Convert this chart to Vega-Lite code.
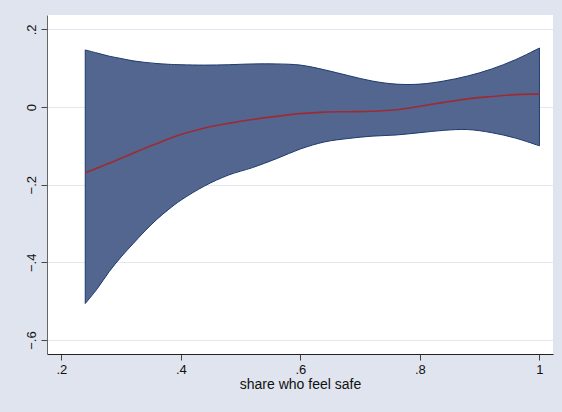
{
  "$schema": "https://vega.github.io/schema/vega-lite/v6.json",
  "width": 506,
  "height": 339,
  "autosize": "none",
  "padding": {"left": 47, "top": 15, "right": 9, "bottom": 58},
  "background": "#dfe4ee",
  "config": {
    "view": {"fill": "white", "stroke": null},
    "font": "Liberation Sans",
    "axis": {
      "labelFont": "Liberation Sans",
      "titleFont": "Liberation Sans",
      "labelFontSize": 13,
      "titleFontSize": 14,
      "labelColor": "#111111",
      "titleColor": "#111111",
      "titleFontWeight": "normal",
      "domainColor": "#444444",
      "tickColor": "#444444",
      "tickSize": 6,
      "gridColor": "#e3e7ef",
      "gridWidth": 1
    }
  },
  "data": {
    "values": [
      {"x": 0.24, "lo": -0.506, "hi": 0.147, "fit": -0.169},
      {"x": 0.26, "lo": -0.468, "hi": 0.139, "fit": -0.157},
      {"x": 0.28, "lo": -0.424, "hi": 0.131, "fit": -0.145},
      {"x": 0.30, "lo": -0.386, "hi": 0.125, "fit": -0.132},
      {"x": 0.32, "lo": -0.352, "hi": 0.119, "fit": -0.119},
      {"x": 0.34, "lo": -0.319, "hi": 0.115, "fit": -0.106},
      {"x": 0.36, "lo": -0.289, "hi": 0.112, "fit": -0.094},
      {"x": 0.38, "lo": -0.263, "hi": 0.110, "fit": -0.082},
      {"x": 0.40, "lo": -0.240, "hi": 0.109, "fit": -0.071},
      {"x": 0.44, "lo": -0.203, "hi": 0.108, "fit": -0.054},
      {"x": 0.48, "lo": -0.175, "hi": 0.109, "fit": -0.042},
      {"x": 0.52, "lo": -0.156, "hi": 0.111, "fit": -0.032},
      {"x": 0.56, "lo": -0.133, "hi": 0.111, "fit": -0.024},
      {"x": 0.60, "lo": -0.108, "hi": 0.108, "fit": -0.017},
      {"x": 0.64, "lo": -0.090, "hi": 0.096, "fit": -0.013},
      {"x": 0.68, "lo": -0.081, "hi": 0.081, "fit": -0.012},
      {"x": 0.72, "lo": -0.075, "hi": 0.067, "fit": -0.011},
      {"x": 0.76, "lo": -0.072, "hi": 0.059, "fit": -0.007},
      {"x": 0.80, "lo": -0.066, "hi": 0.059, "fit": 0.002},
      {"x": 0.84, "lo": -0.060, "hi": 0.067, "fit": 0.012},
      {"x": 0.88, "lo": -0.058, "hi": 0.080, "fit": 0.021},
      {"x": 0.92, "lo": -0.066, "hi": 0.098, "fit": 0.027},
      {"x": 0.96, "lo": -0.080, "hi": 0.122, "fit": 0.032},
      {"x": 1.00, "lo": -0.100, "hi": 0.152, "fit": 0.034}
    ]
  },
  "encoding": {
    "x": {
      "field": "x",
      "type": "quantitative",
      "title": "share who feel safe",
      "scale": {"domain": [0.176, 1.0227], "nice": false, "zero": false},
      "axis": {
        "values": [0.2, 0.4, 0.6, 0.8, 1],
        "labelExpr": "datum.value == 1 ? '1' : replace(format(datum.value, '.1f'), '0.', '.')",
        "grid": false,
        "labelPadding": 3,
        "titlePadding": 1,
        "domainColor": "#222222"
      }
    }
  },
  "layer": [
    {
      "mark": {
        "type": "area",
        "interpolate": "catmull-rom",
        "fill": "#526690",
        "stroke": "#1d3a6d",
        "strokeWidth": 1,
        "fillOpacity": 1
      },
      "encoding": {
        "y": {
          "field": "lo",
          "type": "quantitative",
          "title": null,
          "scale": {"domain": [-0.636, 0.237], "nice": false, "zero": false},
          "axis": {
            "values": [-0.6, -0.4, -0.2, 0, 0.2],
            "labelExpr": "datum.value == 0 ? '0' : replace(format(datum.value, '.1f'), '0.', '.')",
            "labelAngle": -90,
            "labelAlign": "center",
            "labelBaseline": "bottom",
            "labelPadding": 3,
            "grid": true,
            "domainColor": "#666666"
          }
        },
        "y2": {"field": "hi"}
      }
    },
    {
      "mark": {
        "type": "line",
        "interpolate": "catmull-rom",
        "color": "#9e2b33",
        "strokeWidth": 1.6
      },
      "encoding": {
        "y": {"field": "fit", "type": "quantitative"}
      }
    }
  ]
}
